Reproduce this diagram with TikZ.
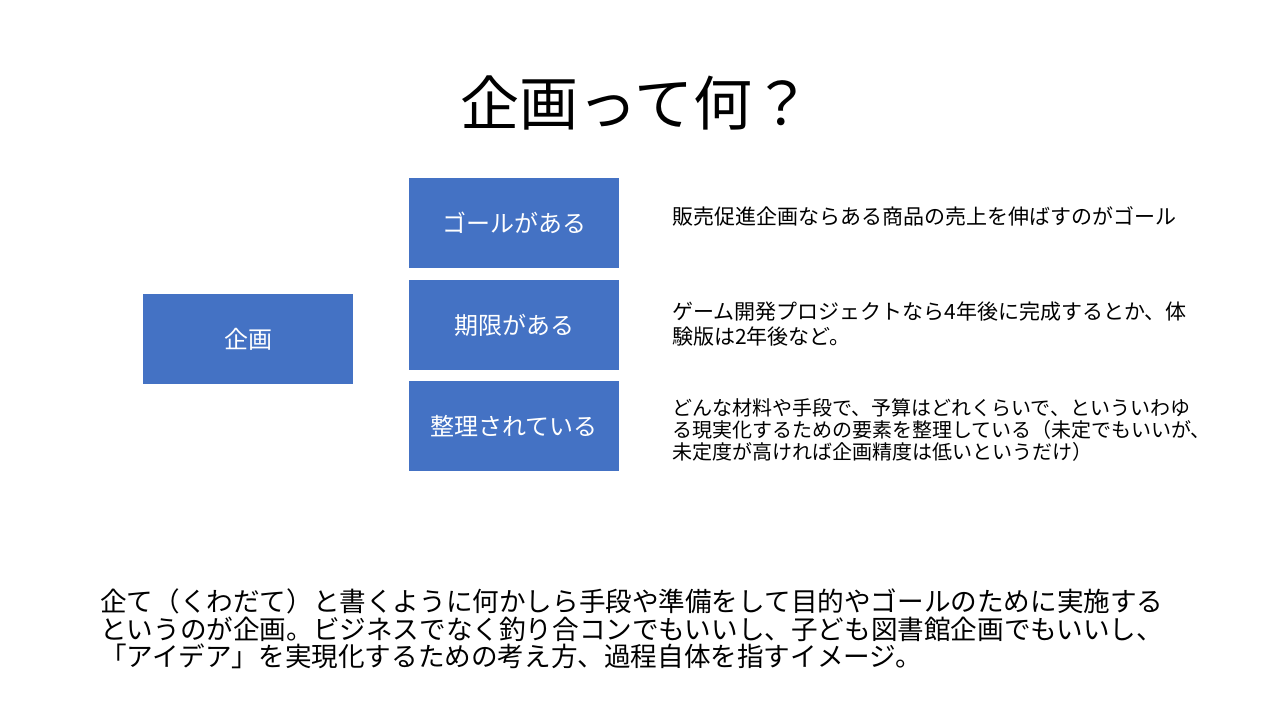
\documentclass[tikz,border=0pt]{standalone}
\usepackage{fontspec}
\newfontfamily\jp{Noto Sans CJK JP}
\definecolor{boxblue}{HTML}{4472C4}
\begin{document}
\begin{tikzpicture}[x=1pt,y=-1pt,
  bluebox/.style={fill=boxblue,draw=none,minimum width=210pt,minimum height=90pt,inner sep=0pt,text=white,font=\jp\fontsize{24}{28}\selectfont},
  desc/.style={anchor=west,align=left,inner sep=0pt,font=\jp\fontsize{21}{25}\selectfont}]
\useasboundingbox (0,0) rectangle (1280,720);
\node[font=\jp\fontsize{59}{62}\selectfont] (title) at (636,103) {企画って何？};
\node[bluebox] (kikaku) at (248,339) {企画};
\node[bluebox] (goal) at (514,223) {ゴールがある};
\node[bluebox] (kigen) at (514,325) {期限がある};
\node[bluebox] (seiri) at (514,426) {整理されている};
\node[desc] (d1) at (672,216) {販売促進企画ならある商品の売上を伸ばすのがゴール};
\node[desc] (d2) at (672,324) {ゲーム開発プロジェクトなら4年後に完成するとか、体\\験版は2年後など。};
\node[desc,font=\jp\fontsize{20}{22}\selectfont] (d3) at (672,430) {どんな材料や手段で、予算はどれくらいで、といういわゆ\\る現実化するための要素を整理している（未定でもいいが、\\未定度が高ければ企画精度は低いというだけ）};
\node[anchor=west,align=left,inner sep=0pt,font=\jp\fontsize{26.6}{27.5}\selectfont] (bottom) at (100,629) {企て（くわだて）と書くように何かしら手段や準備をして目的やゴールのために実施する\\というのが企画。ビジネスでなく釣り合コンでもいいし、子ども図書館企画でもいいし、\\「アイデア」を実現化するための考え方、過程自体を指すイメージ。};
\end{tikzpicture}
\end{document}
